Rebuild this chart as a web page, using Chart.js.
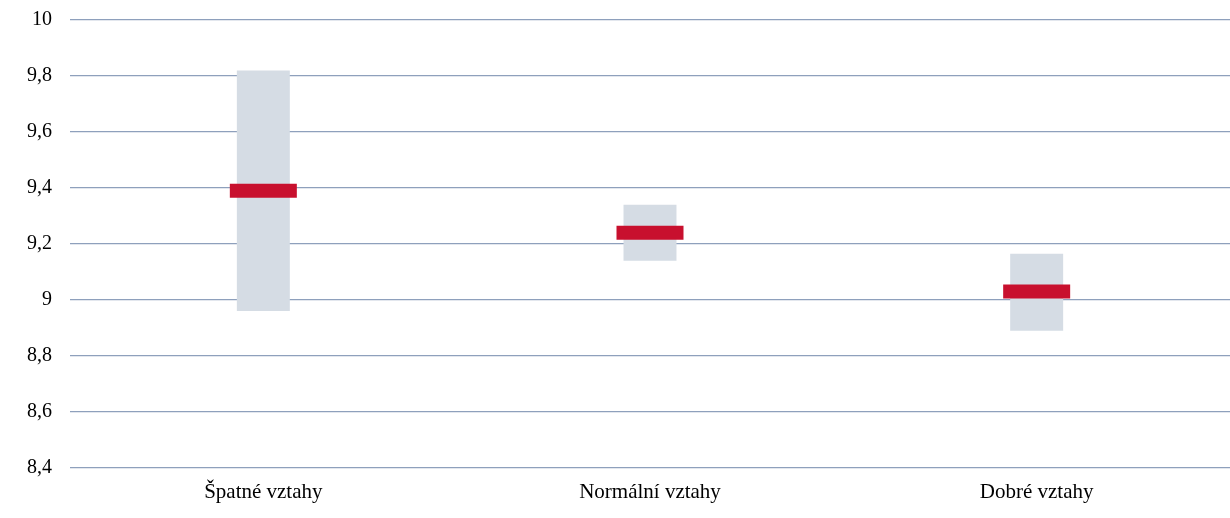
<!DOCTYPE html>
<html lang="cs">
<head>
<meta charset="utf-8">
<script src="https://cdn.jsdelivr.net/npm/chart.js@4"></script>
<style>
  html, body { margin: 0; padding: 0; background: #fff; overflow: hidden; }
  #wrap { width: 1230px; height: 518px; }
</style>
</head>
<body>
<div id="wrap"><canvas id="graf"></canvas></div>
<script>
// ===== DATA =====
const kategorie = ["Špatné vztahy", "Normální vztahy", "Dobré vztahy"];
const minima = [8.96, 9.14, 8.89];
const maxima = [9.82, 9.34, 9.165];
const prumery = [9.39, 9.24, 9.03];
const osaY = { min: 8.4, max: 10, krok: 0.2 };

const rozsahy = kategorie.map((_, i) => [minima[i], maxima[i]]);

const pismo = "'Liberation Serif', 'Times New Roman', serif";

new Chart(document.getElementById("graf"), {
  data: {
    labels: kategorie,
    datasets: [
      {
        type: "line",
        label: "Průměr",
        data: prumery,
        showLine: false,
        pointStyle: "line",
        pointRadius: 33.5,
        pointHoverRadius: 33.5,
        pointBorderWidth: 14,
        pointHoverBorderWidth: 14,
        borderColor: "#C8102E",
        backgroundColor: "#C8102E",
        order: 0
      },
      {
        type: "bar",
        label: "Rozsah",
        data: rozsahy,
        backgroundColor: "#D5DCE4",
        borderSkipped: false,
        grouped: false,
        categoryPercentage: 1,
        barPercentage: 0.137,
        order: 1
      }
    ]
  },
  options: {
    responsive: true,
    maintainAspectRatio: false,
    animation: false,
    layout: { autoPadding: false, padding: { top: 0, right: 0, left: 9, bottom: 1 } },
    plugins: {
      legend: { display: false },
      tooltip: { enabled: false }
    },
    scales: {
      x: {
        grid: { display: false, drawTicks: false },
        border: { display: false },
        ticks: { color: "#000", font: { family: pismo, size: 21 }, padding: 12 }
      },
      y: {
        min: osaY.min,
        max: osaY.max,
        border: { display: false },
        grid: { color: "#8EA0BC", lineWidth: 1.3, drawTicks: false },
        ticks: {
          stepSize: osaY.krok,
          color: "#000",
          font: { family: pismo, size: 20 },
          padding: 18,
          callback: v => String(Number(v.toFixed(1))).replace(".", ",")
        },
        // tick padding se jinak pricita i nahoru
        afterFit: s => { s.paddingTop = 20; s.paddingBottom = 0; }
      }
    }
  }
});
</script>
</body>
</html>
